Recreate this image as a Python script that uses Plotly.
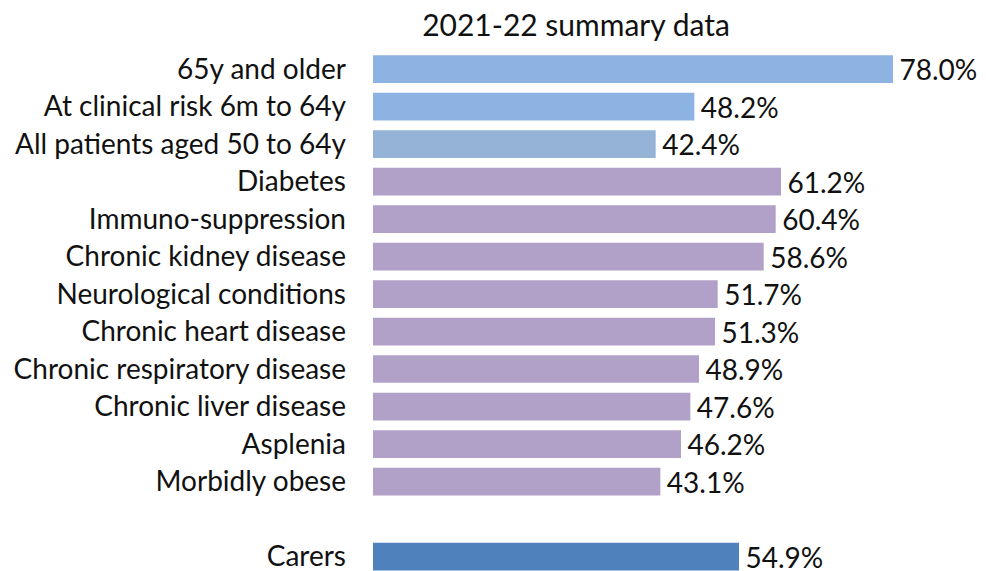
import plotly.graph_objects as go

categories = [
    "65y and older",
    "At clinical risk 6m to 64y",
    "All patients aged 50 to 64y",
    "Diabetes",
    "Immuno-suppression",
    "Chronic kidney disease",
    "Neurological conditions",
    "Chronic heart disease",
    "Chronic respiratory disease",
    "Chronic liver disease",
    "Asplenia",
    "Morbidly obese",
    " ",
    "Carers",
]
values = [78.0, 48.2, 42.4, 61.2, 60.4, 58.6, 51.7, 51.3, 48.9, 47.6, 46.2, 43.1, None, 54.9]
colors = ["#8DB3E2", "#8DB3E2", "#95B3D7"] + ["#B1A0C7"] * 9 + ["#FFFFFF", "#4F81BD"]
labels = [f"\u2009{v:.1f}%" if v is not None else "" for v in values]

FONT = "Lato, 'DejaVu Sans', sans-serif"

fig = go.Figure(
    go.Bar(
        y=categories,
        x=values,
        orientation="h",
        marker=dict(color=colors, line=dict(width=0)),
        width=0.74,
        text=labels,
        textposition="outside",
        constraintext="none",
        textfont=dict(family=FONT, size=28, color="#111111"),
        cliponaxis=False,
        hoverinfo="skip",
    )
)

# page body offsets the figure by 8px
OFF = 8
W, H = 986, 571 - OFF
left, right, top, bottom = 373 - OFF, 0, 50 - OFF, 0
px_per_unit = 6.667
xmax = (W - left - right) / px_per_unit
row = 37.5
c0 = 69.0 - OFF
ytop = (top - c0) / row
ybot = (H - bottom - c0) / row

fig.update_layout(
    width=W,
    height=H,
    margin=dict(l=left, r=right, t=top, b=bottom, pad=0, autoexpand=False),
    paper_bgcolor="white",
    plot_bgcolor="white",
    showlegend=False,
    title=dict(
        text="2021-22 summary data",
        x=(576 - OFF) / W,
        xref="container",
        xanchor="center",
        y=1 - (25 - OFF) / H,
        yref="container",
        yanchor="middle",
        font=dict(family=FONT, size=30, color="#111111"),
    ),
    xaxis=dict(
        range=[0, xmax],
        visible=False,
        showgrid=False,
        zeroline=False,
        automargin=False,
    ),
    yaxis=dict(
        categoryorder="array",
        categoryarray=categories,
        range=[ybot, ytop],
        showgrid=False,
        zeroline=False,
        showline=False,
        ticks="",
        automargin=False,
        ticklabelstandoff=26,
        tickfont=dict(family=FONT, size=28, color="#111111"),
    ),
)

fig.write_html("out.html")
